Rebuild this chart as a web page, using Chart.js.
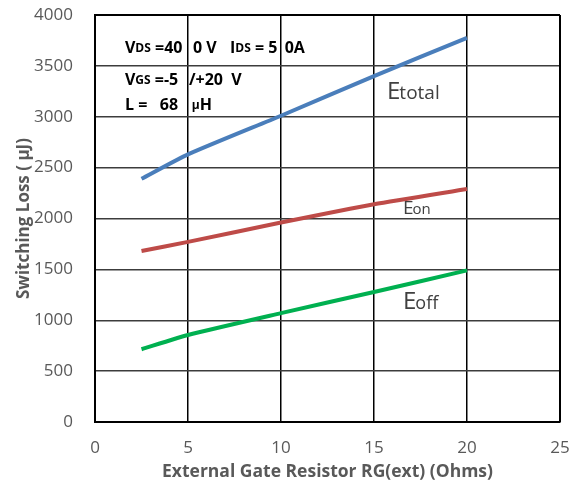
<!DOCTYPE html>
<html><head><meta charset="utf-8">
<script src="https://cdn.jsdelivr.net/npm/chart.js@4/dist/chart.umd.min.js"></script>
<style>html,body{margin:0;padding:0;background:#fff}canvas{display:block}</style>
</head><body>
<canvas id="c" width="576" height="483"></canvas>
<script>
const resistance = [2.5, 5, 10, 15, 20];
const eTotal = [2390, 2630, 3010, 3400, 3775];
const eOn = [1680, 1770, 1960, 2140, 2290];
const eOff = [715, 855, 1070, 1278, 1490];
const xTicks = [0, 5, 10, 15, 20, 25];
const yTicks = [0, 500, 1000, 1500, 2000, 2500, 3000, 3500, 4000];

const FONT = "'Open Sans', sans-serif";
const toPts = ys => resistance.map((x, i) => ({x, y: ys[i]}));

// condition annotation: [x, y, segments[[text, small?]]]
const condText = [
  [1.61, 3676, [["V",0],["DS",1],[" =40",0]]],
  [5.27, 3676, [["0 V",0]]],
  [7.26, 3676, [["I",0],["DS",1],[" = 5",0]]],
  [10.2, 3676, [["0A",0]]],
  [1.61, 3361, [["V",0],["GS",1],[" =-5",0]]],
  [5.05, 3361, [["/+20  V",0]]],
  [1.61, 3115, [["L =   68",0]]],
  [5.2, 3115, [["\u03bc",1],["H",0]]]
];
// series labels: [x, y, big, small, bigSize, smallSize]
const seriesText = [
  [15.7, 3263, "E", "total", 24, 19],
  [16.56, 2113, "E", "on", 19, 15],
  [16.56, 1199, "E", "off", 24, 18]
];

const textPlugin = {
  id: 'texts',
  afterDatasetsDraw(chart) {
    const {ctx, scales:{x, y}} = chart;
    ctx.save();
    ctx.textBaseline = 'middle';
    ctx.textAlign = 'left';
    ctx.fillStyle = '#000';
    for (const [xv, yv, segs] of condText) {
      let px = x.getPixelForValue(xv);
      const py = y.getPixelForValue(yv);
      for (const [t, small] of segs) {
        ctx.font = small ? "bold 12px " + FONT : "bold 16px " + FONT;
        ctx.fillText(t, px, small ? py + 1 : py);
        px += ctx.measureText(t).width;
      }
    }
    ctx.fillStyle = '#404040';
    ctx.textBaseline = 'alphabetic';
    for (const [xv, yv, big, small, bs, ss] of seriesText) {
      let px = x.getPixelForValue(xv);
      const py = y.getPixelForValue(yv) + bs * 0.36;
      ctx.font = bs + "px " + FONT;
      ctx.fillText(big, px, py);
      px += ctx.measureText(big).width - 1;
      ctx.font = ss + "px " + FONT;
      ctx.fillText(small, px, py);
    }
    ctx.restore();
  }
};

new Chart(document.getElementById('c'), {
  type: 'scatter',
  data: {
    datasets: [
      {label: 'Etotal', data: toPts(eTotal), showLine: true, borderColor: '#4a7ebb', borderWidth: 4, pointRadius: 0, tension: 0.2},
      {label: 'Eon', data: toPts(eOn), showLine: true, borderColor: '#be4b48', borderWidth: 4, pointRadius: 0, tension: 0.2},
      {label: 'Eoff', data: toPts(eOff), showLine: true, borderColor: '#00b050', borderWidth: 4, pointRadius: 0, tension: 0.2}
    ]
  },
  options: {
    responsive: false,
    animation: false,
    layout: {padding: {top: 15, right: 16, left: 0, bottom: 0}},
    plugins: {legend: {display: false}, tooltip: {enabled: false}},
    scales: {
      x: {
        type: 'linear', min: 0, max: 25,
        afterBuildTicks: s => { s.ticks = xTicks.map(v => ({value: v})); },
        afterFit: s => { s.height = 61; s.paddingLeft = 0; s.paddingRight = 0; },
        grid: {color: '#000', lineWidth: 1.5, drawTicks: false},
        border: {color: '#000', width: 2},
        ticks: {padding: 16, color: '#595959', font: {family: FONT, size: 17}, callback: v => String(v)},
        title: {display: true, text: 'External Gate Resistor RG(ext) (Ohms)', color: '#595959',
          font: {family: FONT, size: 17.5, weight: 'bold'}, padding: {top: 0, bottom: 0}}
      },
      y: {
        type: 'linear', min: 0, max: 4000,
        afterBuildTicks: s => { s.ticks = yTicks.map(v => ({value: v})); },
        afterFit: s => { s.width = 95; s.paddingTop = 0; s.paddingBottom = 0; },
        grid: {color: '#3c3c3c', lineWidth: 1.5, drawTicks: false},
        border: {color: '#000', width: 2},
        ticks: {padding: 22, color: '#595959', font: {family: FONT, size: 17}, callback: v => String(v)},
        title: {display: true, text: 'Switching Loss ( \u03bcJ)', color: '#595959',
          font: {family: FONT, size: 17, weight: 'bold'}, padding: {top: 14, bottom: 0}}
      }
    }
  },
  plugins: [textPlugin, {
    id: 'rightBorder',
    afterDraw(chart) {
      const {ctx, chartArea: a} = chart;
      ctx.save(); ctx.strokeStyle = '#000'; ctx.lineWidth = 2;
      ctx.beginPath(); ctx.moveTo(a.right, a.top); ctx.lineTo(a.right, a.bottom); ctx.stroke();
      ctx.beginPath(); ctx.moveTo(a.left, a.top); ctx.lineTo(a.right, a.top); ctx.stroke();
      ctx.restore();
    }
  }]
});
</script>
</body></html>
